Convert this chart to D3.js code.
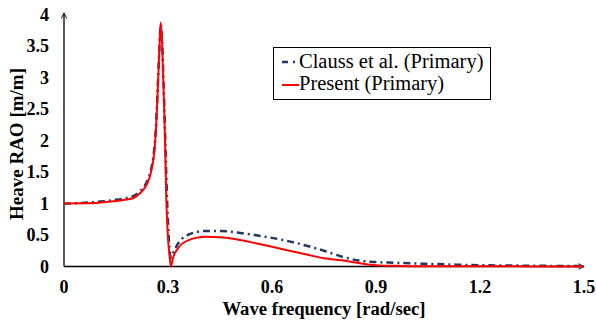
<!DOCTYPE html>
<html>
<head>
<meta charset="utf-8">
<script src="https://cdn.jsdelivr.net/npm/d3@7"></script>
<style>
  body { margin: 0; background: #fff; }
  svg { display: block; font-family: "Liberation Serif", "Times New Roman", serif; }
</style>
</head>
<body>
<svg id="chart" width="596" height="325"></svg>
<script>
// wave frequency samples [rad/sec]
const omega = [0, 0.05, 0.1, 0.15, 0.18, 0.2, 0.22, 0.24, 0.25, 0.26, 0.265, 0.27, 0.275, 0.279,
  0.283, 0.287, 0.291, 0.295, 0.3, 0.304, 0.308, 0.315, 0.325, 0.34, 0.36, 0.38, 0.41, 0.45,
  0.5, 0.55, 0.6, 0.65, 0.7, 0.75, 0.8, 0.85, 0.9, 0.95, 1.0, 1.1, 1.2, 1.3, 1.4, 1.5];

const clauss = [1.0, 1.01, 1.03, 1.06, 1.09, 1.12, 1.2, 1.36, 1.52, 1.85, 2.2, 2.8, 3.45, 3.85,
  3.55, 2.95, 2.25, 1.45, 0.7, 0.3, 0.14, 0.22, 0.33, 0.44, 0.51, 0.545, 0.565, 0.565,
  0.54, 0.5, 0.455, 0.4, 0.33, 0.25, 0.16, 0.095, 0.07, 0.06, 0.05, 0.035, 0.02, 0.015, 0.01, 0.008];

const present = [1.0, 1.005, 1.015, 1.04, 1.065, 1.09, 1.17, 1.32, 1.48, 1.8, 2.15, 2.75, 3.45, 3.88,
  3.55, 2.85, 2.1, 1.1, 0.45, 0.2, 0.0, 0.15, 0.26, 0.36, 0.42, 0.455, 0.475, 0.465,
  0.43, 0.375, 0.315, 0.25, 0.19, 0.13, 0.1, 0.055, 0.02, 0.01, 0.005, 0.003, 0.002, 0.002, 0.001, 0.001];

const xTicks = [0, 0.3, 0.6, 0.9, 1.2, 1.5];
const yTicks = [0, 0.5, 1, 1.5, 2, 2.5, 3, 3.5, 4];
const seriesNames = ['Clauss et al. (Primary)', 'Present (Primary)'];

const svg = d3.select('#chart');
const plotLeft = 64, plotRight = 584, plotTop = 15, plotBottom = 266.5;

const x = d3.scaleLinear().domain([0, 1.5]).range([plotLeft, plotRight]);
const y = d3.scaleLinear().domain([0, 4]).range([plotBottom, plotTop]);

// arrow marker for the axes
svg.append('defs').append('marker')
  .attr('id', 'arrow')
  .attr('viewBox', '0 0 10 10')
  .attr('refX', 9).attr('refY', 5)
  .attr('markerWidth', 7).attr('markerHeight', 7)
  .attr('markerUnits', 'userSpaceOnUse')
  .attr('orient', 'auto')
  .append('path')
  .attr('d', 'M1,1 L9,5 L1,9')
  .attr('fill', 'none')
  .attr('stroke', '#000')
  .attr('stroke-width', 1.3);

// axes lines
svg.append('line')
  .attr('x1', x(0)).attr('y1', y(0))
  .attr('x2', plotRight).attr('y2', y(0))
  .attr('stroke', '#000').attr('stroke-width', 1.3)
  .attr('marker-end', 'url(#arrow)');

svg.append('line')
  .attr('x1', x(0)).attr('y1', y(0))
  .attr('x2', x(0)).attr('y2', plotTop - 2)
  .attr('stroke', '#000').attr('stroke-width', 1.3)
  .attr('marker-end', 'url(#arrow)');

// tick labels
svg.append('g')
  .selectAll('text')
  .data(xTicks)
  .enter()
  .append('text')
  .attr('x', d => x(d))
  .attr('y', 293)
  .attr('text-anchor', 'middle')
  .style('font-size', '18px')
  .style('font-weight', 'bold')
  .text(d => d);

svg.append('g')
  .selectAll('text')
  .data(yTicks)
  .enter()
  .append('text')
  .attr('x', 49)
  .attr('y', d => y(d) + 6)
  .attr('text-anchor', 'end')
  .style('font-size', '18px')
  .style('font-weight', 'bold')
  .text(d => d);

// axis titles
svg.append('text')
  .attr('x', 324)
  .attr('y', 315)
  .attr('text-anchor', 'middle')
  .style('font-size', '18.7px')
  .style('font-weight', 'bold')
  .text('Wave frequency [rad/sec]');

svg.append('text')
  .attr('transform', 'translate(23,144) rotate(-90)')
  .attr('text-anchor', 'middle')
  .style('font-size', '19px')
  .style('font-weight', 'bold')
  .text('Heave RAO [m/m]');

// curves
const line = d3.line()
  .x(d => x(d[0]))
  .y(d => y(d[1]))
  .curve(d3.curveMonotoneX);

svg.append('path')
  .datum(omega.map((w, i) => [w, clauss[i]]))
  .attr('d', line)
  .attr('fill', 'none')
  .attr('stroke', '#1f3864')
  .attr('stroke-width', 2.5)
  .attr('stroke-dasharray', '7,4,2,4');

svg.append('path')
  .datum(omega.map((w, i) => [w, present[i]]))
  .attr('d', line)
  .attr('fill', 'none')
  .attr('stroke', '#ff0000')
  .attr('stroke-width', 2);

// legend
const legend = svg.append('g');
legend.append('rect')
  .attr('x', 273.5).attr('y', 47.5)
  .attr('width', 217).attr('height', 52)
  .attr('fill', '#fff')
  .attr('stroke', '#000')
  .attr('stroke-width', 1);

legend.append('line')
  .attr('x1', 282).attr('x2', 298)
  .attr('y1', 62).attr('y2', 62)
  .attr('stroke', '#1f3864')
  .attr('stroke-width', 2.5)
  .attr('stroke-dasharray', '6,5,2,4');

legend.append('line')
  .attr('x1', 282).attr('x2', 299)
  .attr('y1', 85).attr('y2', 85)
  .attr('stroke', '#ff0000')
  .attr('stroke-width', 2);

legend.selectAll('text.lbl')
  .data(seriesNames)
  .enter()
  .append('text')
  .attr('class', 'lbl')
  .attr('x', 299)
  .attr('y', (d, i) => 68 + i * 22)
  .style('font-size', '20.5px')
  .text(d => d);
</script>
</body>
</html>
